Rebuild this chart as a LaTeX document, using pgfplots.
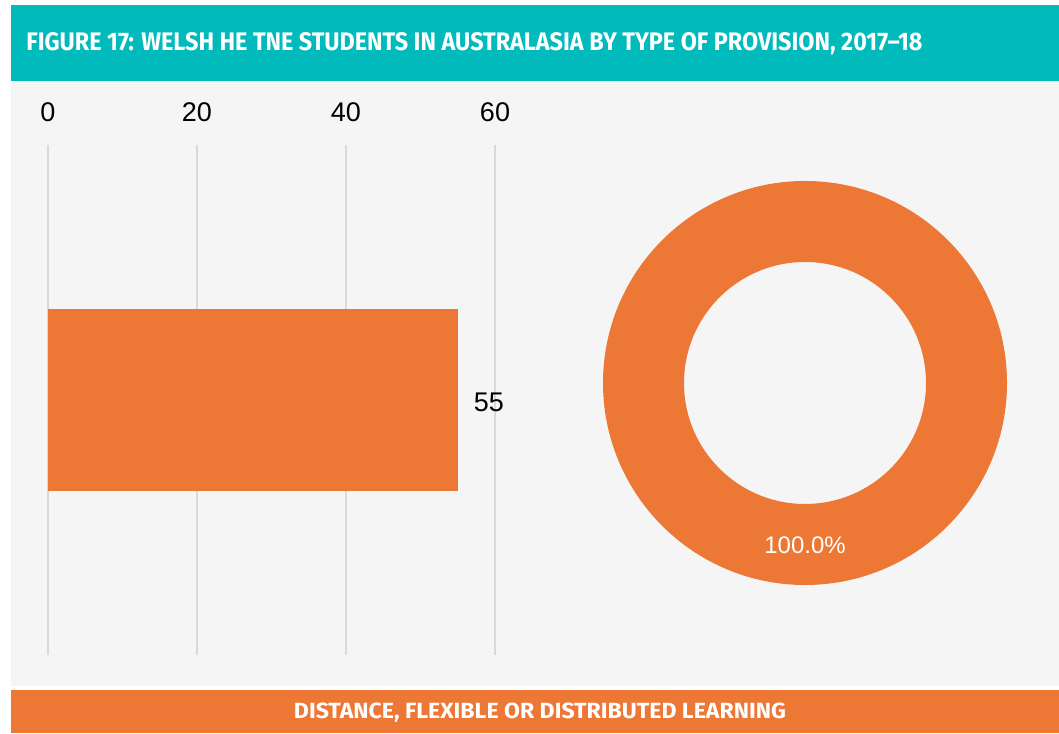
\documentclass[border=0pt]{standalone}
\usepackage{pgfplots}
\pgfplotsset{compat=1.18}
\usepackage{graphicx}
\usepackage{fontspec}
\setmainfont{Liberation Sans}
\newfontfamily\headfont{Fira Sans}
\definecolor{teal1}{HTML}{00BABC}
\definecolor{orange1}{HTML}{ED7734}
\definecolor{panel}{HTML}{F5F5F5}
\definecolor{gridc}{HTML}{D9D9D9}

\begin{document}
\begin{tikzpicture}
% background and panels, in pixel coordinates of the reference (y down)
\begin{scope}[x=0.5pt, y=-0.5pt, yshift=366.5pt]
\fill[white] (0,0) rectangle (1059,733);
\fill[teal1] (11,5) rectangle (1059,81);
\fill[panel] (11,81) rectangle (1059,686);
\fill[orange1] (11,690) rectangle (1059,733);
\node[anchor=base west, inner sep=0, text=white] at (26,51)
  {\resizebox{448pt}{9pt}{\headfont\bfseries FIGURE 17: WELSH HE TNE STUDENTS IN AUSTRALASIA BY TYPE OF PROVISION, 2017–18}};
\node[anchor=base, inner sep=0, text=white] at (540,718)
  {\resizebox{246pt}{7.8pt}{\headfont\bfseries DISTANCE, FLEXIBLE OR DISTRIBUTED LEARNING}};
\end{scope}

% bar chart
\begin{axis}[
    at={(24pt,39pt)}, anchor=south west,
    scale only axis,
    width=223.5pt, height=255pt,
    xbar, bar width=91pt,
    xmin=0, xmax=60,
    ymin=-1, ymax=1,
    xtick={0,20,40,60},
    ytick=\empty,
    xticklabel pos=upper,
    major tick length=0pt,
    axis line style={draw=none},
    xmajorgrids,
    grid style={draw=gridc, line width=1pt},
    /pgf/number format/assume math mode=true,
    xticklabel style={font=\fontsize{13.5}{16}\selectfont, yshift=8pt},
    nodes near coords,
    every node near coord/.append style={font=\fontsize{13.5}{16}\selectfont, black, xshift=4.5pt, yshift=-1pt},
    clip=false,
]
\addplot[fill=orange1, draw=none] coordinates {(55,0)};
\end{axis}

% donut chart (single category, 100%)
\begin{axis}[
    at={(402.5pt,175pt)}, anchor=center,
    scale only axis,
    width=202pt, height=202pt,
    xmin=-202, xmax=202, ymin=-202, ymax=202,
    hide axis,
    clip=false,
]
\fill[orange1, even odd rule] (axis cs:0,0) circle[radius=202] (axis cs:0,0) circle[radius=121];
\node[text=white, font=\fontsize{12}{14}\selectfont] at (axis cs:0,-162) {100.0\%};
\end{axis}
\end{tikzpicture}
\end{document}
